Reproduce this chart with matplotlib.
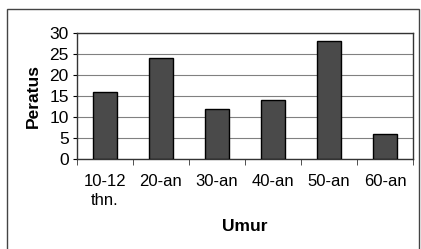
import matplotlib
matplotlib.use("Agg")
import matplotlib.pyplot as plt
from matplotlib.patches import Rectangle

categories = ["10-12\nthn.", "20-an", "30-an", "40-an", "50-an", "60-an"]
values = [16, 24, 12, 14, 28, 6]
yticks = [0, 5, 10, 15, 20, 25, 30]

plt.rcParams['font.family'] = ['Liberation Sans', 'DejaVu Sans']
W, H = 421, 249
fig = plt.figure(figsize=(W/100, H/100), dpi=100)
ax = fig.add_axes([77/W, 1-159/H, 336/W, 126/H])

x = list(range(len(categories)))
ax.bar(x, values, width=0.43, color="#4a4a4a", edgecolor="black", linewidth=1.0, zorder=3)
ax.set_xlim(-0.5, len(categories)-0.5)
ax.set_ylim(0, 30)
ax.set_yticks(yticks)
ax.yaxis.grid(True, color="#808080", linewidth=0.8, zorder=0)
ax.set_xticks(x)
ax.set_xticklabels(categories, fontsize=12, linespacing=1.3)
ax.set_xticks([i + 0.5 for i in range(-1, len(categories))], minor=True)
ax.tick_params(axis='x', which='major', length=0, pad=11)
ax.tick_params(axis='x', which='minor', length=4, direction='out', color='#333333')
ax.tick_params(axis='y', labelsize=12.5, length=3, pad=3)
for s in ax.spines.values():
    s.set_color("#333333")
    s.set_linewidth(1.0)
ax.set_ylabel("Peratus", fontsize=12.5, fontweight='bold', labelpad=6)
ax.set_xlabel("Umur", fontsize=12.5, fontweight='bold', labelpad=8)

fig.patches.append(Rectangle((7/W, -0.05), (419-7)/W, 1-9/H+0.05, transform=fig.transFigure,
                             fill=False, edgecolor="#444444", linewidth=1.0))
fig.savefig("out.png", dpi=100)
